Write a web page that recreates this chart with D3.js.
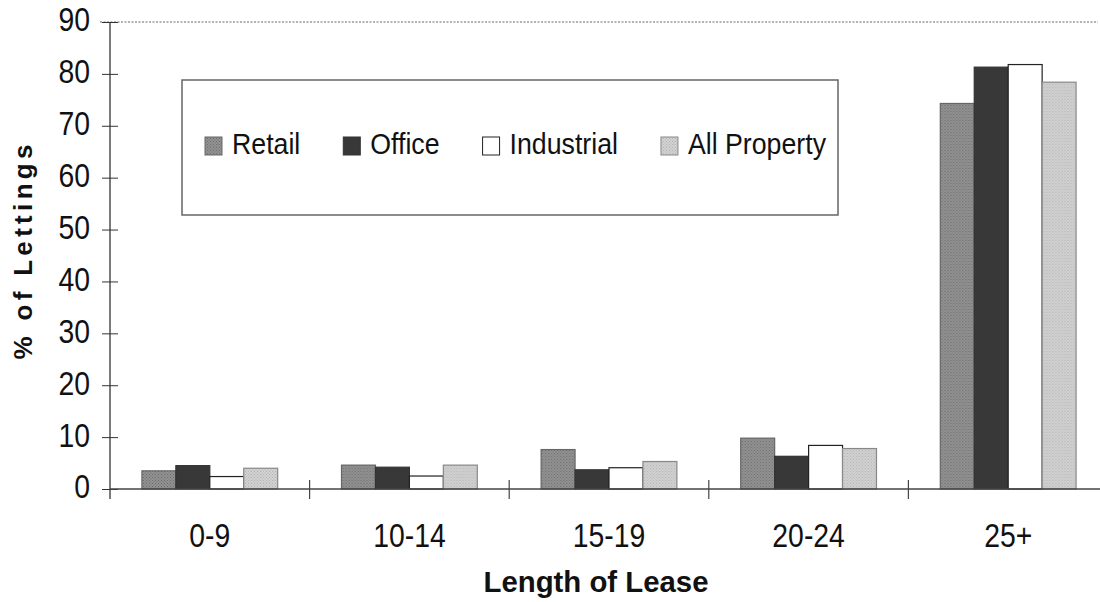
<!DOCTYPE html>
<html lang="en">
<head>
    <meta charset="UTF-8">
    <title>Length of Lease</title>
    <style>
        body { margin: 0; background: #fff; }
        svg { display: block; }
        .narrow, .narrow text { font-family: "Liberation Sans Narrow", "Liberation Sans", Arial, Roboto, sans-serif; }
    </style>
    <script src="https://cdnjs.cloudflare.com/ajax/libs/d3/7.8.5/d3.min.js"></script>
</head>
<body>
    <div id="chart"></div>

    <script>
        // Data (% of lettings)
        const categories = ["0-9", "10-14", "15-19", "20-24", "25+"];
        const seriesNames = ["Retail", "Office", "Industrial", "All Property"];
        const retail = [3.5, 4.6, 7.6, 9.8, 74.3];
        const office = [4.5, 4.2, 3.7, 6.3, 81.3];
        const industrial = [2.4, 2.5, 4.1, 8.4, 81.8];
        const allProperty = [4.0, 4.6, 5.3, 7.8, 78.4];
        const yTicks = [0, 10, 20, 30, 40, 50, 60, 70, 80, 90];

        const seriesValues = [retail, office, industrial, allProperty];
        const rows = categories.map((c, i) => ({
            category: c,
            values: seriesNames.map((s, j) => ({ series: s, value: seriesValues[j][i] }))
        }));

        const W = 1100, H = 602;
        const plot = { left: 110, right: 1108, top: 22, bottom: 489 };

        const svg = d3.select("#chart").append("svg")
            .attr("width", W)
            .attr("height", H);

        // the original uses a condensed face; squeeze whatever font we got to the same width
        function squeeze(sel, k) {
            sel.each(function () {
                const len = this.getComputedTextLength();
                d3.select(this)
                    .attr("textLength", len * k)
                    .attr("lengthAdjust", "spacingAndGlyphs");
            });
        }
        function squeezeFactor(str, size, target) {
            const t = svg.append("text").attr("class", "narrow")
                .style("font-size", size + "px").text(str);
            const k = target / t.node().getComputedTextLength();
            t.remove();
            return k;
        }
        const kTick = squeezeFactor("0-9", 33, 41);

        // stipple patterns for the grey fills
        const defs = svg.append("defs");
        function stipple(id, base, dot) {
            const p = defs.append("pattern")
                .attr("id", id)
                .attr("width", 3).attr("height", 3)
                .attr("patternUnits", "userSpaceOnUse");
            p.append("rect").attr("width", 3).attr("height", 3).attr("fill", base);
            p.append("rect").attr("x", 0).attr("y", 0).attr("width", 1).attr("height", 1).attr("fill", dot);
            p.append("rect").attr("x", 1.5).attr("y", 1.5).attr("width", 1).attr("height", 1).attr("fill", dot);
        }
        stipple("pat-retail", "#939393", "#6a6a6a");
        stipple("pat-all", "#d2d2d2", "#b2b2b2");

        const fills = {
            "Retail": "url(#pat-retail)",
            "Office": "#383838",
            "Industrial": "#ffffff",
            "All Property": "url(#pat-all)"
        };
        const strokes = {
            "Retail": "#666",
            "Office": "#333",
            "Industrial": "#222",
            "All Property": "#888"
        };

        // scales
        const x0 = d3.scaleBand()
            .domain(categories)
            .range([plot.left, plot.right]);

        const x1 = d3.scaleBand()
            .domain(seriesNames)
            .range([0, x0.bandwidth()])
            .paddingInner(0)
            .paddingOuter(0.94);

        const y = d3.scaleLinear()
            .domain([0, 90])
            .range([plot.bottom, plot.top]);

        // faint dotted top border of the plot area
        svg.append("line")
            .attr("x1", 100).attr("x2", 1098)
            .attr("y1", y(90)).attr("y2", y(90))
            .attr("stroke", "#9a9a9a")
            .attr("stroke-width", 1.5)
            .attr("stroke-dasharray", "2,1.5");

        // bars
        const groups = svg.selectAll(".grp")
            .data(rows)
            .enter().append("g")
            .attr("class", "grp")
            .attr("transform", d => `translate(${x0(d.category)},0)`);

        groups.selectAll("rect")
            .data(d => d.values)
            .enter().append("rect")
            .attr("x", d => x1(d.series))
            .attr("y", d => y(d.value))
            .attr("width", x1.bandwidth())
            .attr("height", d => y(0) - y(d.value))
            .attr("fill", d => fills[d.series])
            .attr("stroke", d => strokes[d.series])
            .attr("stroke-width", 1.2);

        // y axis with crossing ticks
        const yAxis = svg.append("g")
            .attr("class", "narrow")
            .attr("transform", `translate(${plot.left},0)`)
            .call(d3.axisLeft(y).tickValues(yTicks).tickSize(8).tickPadding(12));
        yAxis.select(".domain").attr("stroke", "#333").attr("stroke-width", 1.3)
            .attr("d", `M0,${plot.top}V${plot.bottom + 10}`);
        yAxis.selectAll(".tick line").attr("x1", 8).attr("x2", -8).attr("stroke", "#333");
        yAxis.selectAll(".tick text")
            .attr("dy", "0.27em")
            .style("font-size", "33px")
            .attr("fill", "#111")
            .call(squeeze, kTick);

        // x axis: labels centred, ticks between categories
        const xAxis = svg.append("g")
            .attr("class", "narrow")
            .attr("transform", `translate(0,${plot.bottom})`)
            .call(d3.axisBottom(x0).tickSize(0));
        xAxis.select(".domain").attr("stroke", "#444").attr("stroke-width", 1.3)
            .attr("d", `M${plot.left},0H1100`);
        xAxis.selectAll(".tick text")
            .attr("y", 58)
            .attr("dy", "0")
            .style("font-size", "33px")
            .attr("fill", "#111")
            .call(squeeze, kTick);

        xAxis.selectAll(".sep")
            .data(categories.slice(1))
            .enter().append("line")
            .attr("class", "sep")
            .attr("x1", d => x0(d)).attr("x2", d => x0(d))
            .attr("y1", -9).attr("y2", 10)
            .attr("stroke", "#444")
            .attr("stroke-width", 1.2);

        // axis titles
        svg.append("text")
            .attr("transform", `translate(32,252) rotate(-90)`)
            .attr("text-anchor", "middle")
            .style("font-family", "'Liberation Sans', Arial, Roboto, sans-serif")
            .style("font-weight", "bold")
            .style("font-size", "26px")
            .attr("textLength", 215)
            .attr("lengthAdjust", "spacing")
            .attr("fill", "#111")
            .text("% of Lettings");

        svg.append("text")
            .attr("class", "narrow")
            .attr("x", 596)
            .attr("y", 592)
            .attr("text-anchor", "middle")
            .style("font-weight", "bold")
            .style("font-size", "30px")
            .attr("textLength", 225)
            .attr("lengthAdjust", "spacingAndGlyphs")
            .attr("fill", "#111")
            .text("Length of Lease");

        // legend
        const legend = svg.append("g").attr("class", "narrow");
        legend.append("rect")
            .attr("x", 182).attr("y", 80)
            .attr("width", 656).attr("height", 135)
            .attr("fill", "#fff")
            .attr("stroke", "#666")
            .attr("stroke-width", 1.5);

        const kLegend = squeezeFactor(seriesNames.join(""), 30, 384);
        let lx = 205;
        seriesNames.forEach(s => {
            legend.append("rect")
                .attr("x", lx).attr("y", 137)
                .attr("width", 17).attr("height", 18)
                .attr("fill", fills[s])
                .attr("stroke", strokes[s])
                .attr("stroke-width", 1);
            const t = legend.append("text")
                .attr("x", lx + 27)
                .attr("y", 154)
                .style("font-size", "30px")
                .attr("fill", "#111")
                .text(s);
            const len = t.node().getComputedTextLength() * kLegend;
            t.attr("textLength", len).attr("lengthAdjust", "spacingAndGlyphs");
            lx += 27 + len + 43;
        });
    </script>
</body>
</html>
